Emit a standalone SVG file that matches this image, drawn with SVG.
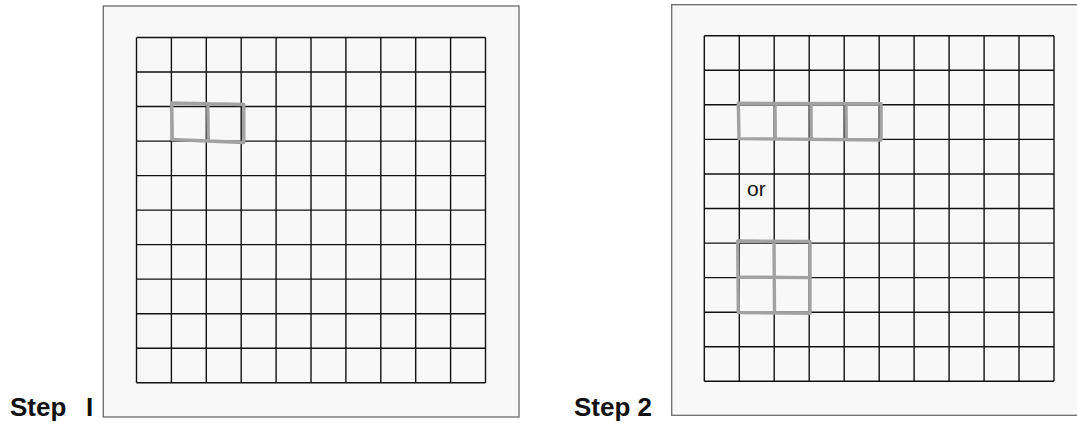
<svg xmlns="http://www.w3.org/2000/svg" width="1077" height="423" viewBox="0 0 1077 423">
<style>
.panel{fill:#f8f8f8;stroke:#6a6a6a;stroke-width:1.3}
.grid{fill:none;stroke:#111;stroke-width:1.4}
.hl{fill:none;stroke:#a2a2a2;stroke-width:3.4;stroke-linejoin:round;stroke-linecap:round}
.step{font-family:"Liberation Sans",Arial,sans-serif;font-weight:bold;font-size:26px;fill:#111}
.lbl{font-family:"Liberation Sans",Arial,sans-serif;font-size:21px;fill:#111}
</style>
<rect width="1077" height="423" fill="#fff"/>
<g id="panel1">
<rect class="panel" x="103.3" y="6" width="415.7" height="411"/>
<path class="grid" d="M136.5,37.5V382.7M171.4,37.5V382.7M206.3,37.5V382.7M241.2,37.5V382.7M276.1,37.5V382.7M311,37.5V382.7M345.9,37.5V382.7M380.8,37.5V382.7M415.7,37.5V382.7M450.6,37.5V382.7M485.5,37.5V382.7M136.5,37.5H485.5M136.5,72H485.5M136.5,106.5H485.5M136.5,141.1H485.5M136.5,175.6H485.5M136.5,210.1H485.5M136.5,244.6H485.5M136.5,279.1H485.5M136.5,313.7H485.5M136.5,348.2H485.5M136.5,382.7H485.5"/>
<path class="hl" d="M171.8,103L243.8,104.5L243.8,142.5L172.3,139.5ZM207.8,103.5L208.3,141"/>
<text class="step" x="10" y="415.5">Step<tspan x="86">I</tspan></text>
</g>
<g id="panel2">
<rect class="panel" x="671.7" y="4.7" width="410" height="410.6"/>
<path class="grid" d="M704.3,35.7V381.3M739.3,35.7V381.3M774.2,35.7V381.3M809.2,35.7V381.3M844.2,35.7V381.3M879.2,35.7V381.3M914.1,35.7V381.3M949.1,35.7V381.3M984.1,35.7V381.3M1019,35.7V381.3M1054,35.7V381.3M704.3,35.7H1054M704.3,70.3H1054M704.3,104.8H1054M704.3,139.4H1054M704.3,174H1054M704.3,208.5H1054M704.3,243.1H1054M704.3,277.6H1054M704.3,312.2H1054M704.3,346.7H1054M704.3,381.3H1054"/>
<path class="hl" d="M738.3,103.3L881,103.8L881,140L739,138.6ZM775,103.5L775.3,139.2M811,103.6L811.2,139.6M846,103.7L846.3,139.8"/>
<path class="hl" d="M737.7,241L810,241.5L810,313.3L738.3,312.5ZM774,241.2L774.5,313M738,277L810,277.6"/>
<text class="lbl" x="747" y="196">or</text>
<text class="step" x="574" y="415.5">Step 2</text>
</g>
</svg>
